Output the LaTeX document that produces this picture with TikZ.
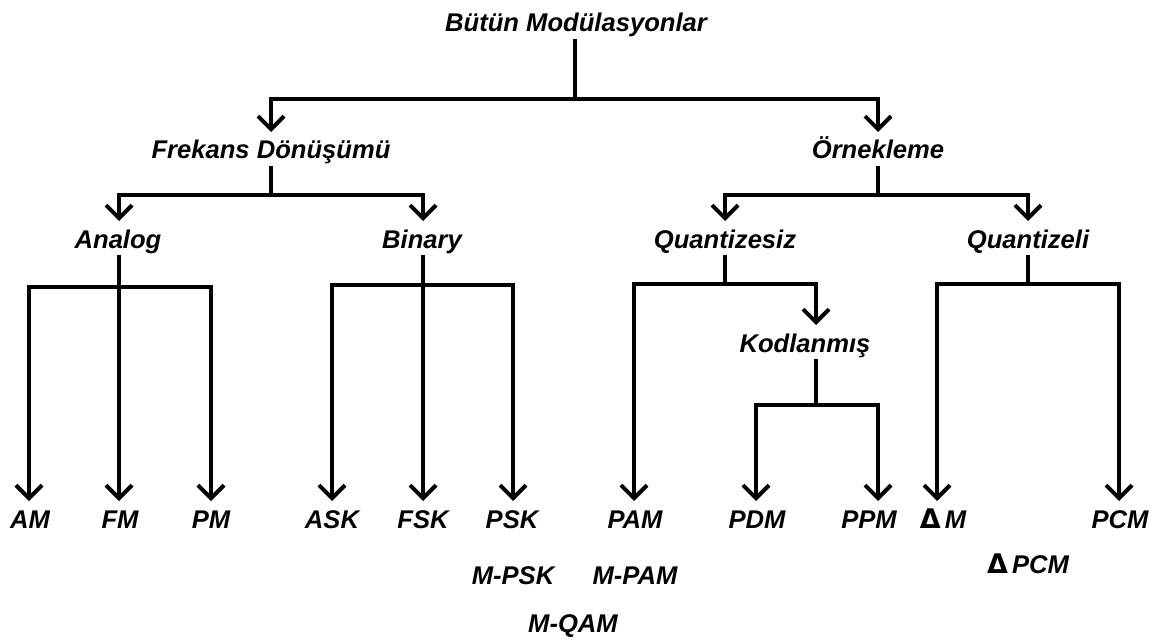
\documentclass[tikz,border=0pt]{standalone}
\usepackage{fontspec}
\setmainfont{Liberation Sans}
\newfontfamily\symfont{DejaVu Sans}
\usetikzlibrary{arrows.meta}
\begin{document}
\begin{tikzpicture}[x=1pt,y=-1pt,
  lbl/.style={inner sep=0pt, outer sep=0pt, anchor=base,
    text height=18pt, text depth=0pt,
    font=\fontsize{25.6}{30}\selectfont\bfseries\itshape},
  wire/.style={line width=4pt, line join=miter},
  stem/.style={wire, shorten <=7pt},
  arr/.style={wire, -{Straight Barb[length=13pt, width=26pt, line cap=butt, line join=miter]}, shorten >=9pt},
  arrs/.style={arr, shorten <=7pt}]
\useasboundingbox (0,0) rectangle (1155,644);
\newcommand{\dl}{{\symfont\upshape\fontsize{27}{30}\selectfont Δ}}

% level 0
\node[lbl] (bm) at (576,32) {Bütün Modülasyonlar};
% level 1
\node[lbl] (fd) at (271,159) {Frekans Dönüşümü};
\node[lbl] (ok) at (878,159) {Örnekleme};
% level 2
\node[lbl] (an) at (118,248) {Analog};
\node[lbl] (bi) at (422,248) {Binary};
\node[lbl] (qs) at (725,248) {Quantizesiz};
\node[lbl] (qz) at (1028,248) {Quantizeli};
\node[lbl] (kd) at (805,352) {Kodlanmış};
% leaves
\node[lbl] (am)  at (30,528)   {AM};
\node[lbl] (fm)  at (120,528)  {FM};
\node[lbl] (pm)  at (211,528)  {PM};
\node[lbl] (ask) at (332,528)  {ASK};
\node[lbl] (fsk) at (423,528)  {FSK};
\node[lbl] (psk) at (512,528)  {PSK};
\node[lbl] (pam) at (635,528)  {PAM};
\node[lbl] (pdm) at (757,528)  {PDM};
\node[lbl] (ppm) at (869,528)  {PPM};
\node[lbl] (dm)  at (943,528)  {\dl\hspace{4pt}M};
\node[lbl] (pcm) at (1120,528) {PCM};
% variants
\node[lbl] (mpsk) at (513,584)  {M-PSK};
\node[lbl] (mpam) at (635,584)  {M-PAM};
\node[lbl] (dpcm) at (1028,573) {\dl\hspace{4pt}PCM};
\node[lbl] (mqam) at (573,632)  {M-QAM};

% junctions
\coordinate (j0) at (575,99);
\coordinate (j1) at (271,195);
\coordinate (j2) at (878,195);
\coordinate (ja) at (119,287);
\coordinate (jb) at (423,285);
\coordinate (jq) at (725,284);
\coordinate (jz) at (1028,284);
\coordinate (jk) at (816,405);

% all modulations
\draw[stem] (bm.south -| j0) -- (j0);
\draw[arr] (j0) -| (fd.north);
\draw[arr] (j0) -| (ok.north);
% frequency conversion
\draw[stem] (fd.south) -- (j1);
\draw[arr] (j1) -| ([xshift=1pt]an.north);
\draw[arr] (j1) -| ([xshift=1pt]bi.north);
% sampling
\draw[stem] (ok.south) -- (j2);
\draw[arr] (j2) -| (qs.north);
\draw[arr] (j2) -| (qz.north);
% analog
\draw[arrs] (an.south -| ja) -- ([xshift=-1pt]fm.north);
\draw[arr] (ja) -| ([xshift=-1pt]am.north);
\draw[arr] (ja) -| (pm.north);
% binary
\draw[arrs] (bi.south -| jb) -- (fsk.north);
\draw[arr] (jb) -| (ask.north);
\draw[arr] (jb) -| ([xshift=1pt]psk.north);
% unquantized
\draw[stem] (qs.south) -- (jq);
\draw[arr] (jq) -| ([xshift=-1pt]pam.north);
\draw[arr] (jq) -| ([xshift=11pt]kd.north);
% coded
\draw[stem] ([xshift=11pt]kd.south) -- (jk);
\draw[arr] (jk) -| ([xshift=-1pt]pdm.north);
\draw[arr] (jk) -| ([xshift=9pt]ppm.north);
% quantized
\draw[stem] (qz.south) -- (jz);
\draw[arr] (jz) -| ([xshift=-6pt]dm.north);
\draw[arr] (jz) -| ([xshift=-1pt]pcm.north);
\end{tikzpicture}
\end{document}
